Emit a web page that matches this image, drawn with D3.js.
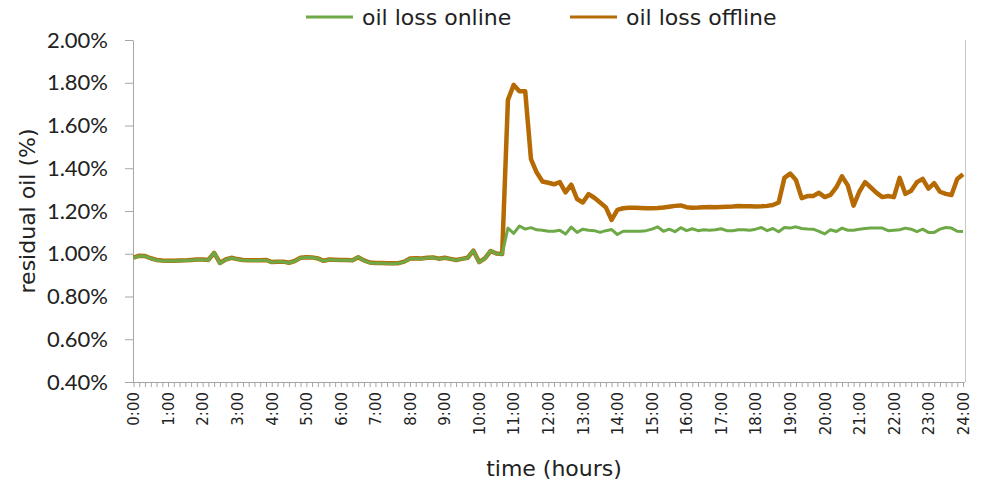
<!DOCTYPE html>
<html>
<head>
<meta charset="utf-8">
<script src="https://cdn.jsdelivr.net/npm/d3@7"></script>
<style>
  body { margin: 0; background: #fff; }
</style>
</head>
<body>
<script>
// 10-minute samples, 0:00 .. 24:00 (145 points), residual oil in %
var hourLabels = ["0:00", "1:00", "2:00", "3:00", "4:00", "5:00", "6:00", "7:00", "8:00",
    "9:00", "10:00", "11:00", "12:00", "13:00", "14:00", "15:00", "16:00", "17:00",
    "18:00", "19:00", "20:00", "21:00", "22:00", "23:00", "24:00"];

var yTicks = [0.4, 0.6, 0.8, 1.0, 1.2, 1.4, 1.6, 1.8, 2.0];

var seriesNames = ["oil loss online", "oil loss offline"];

var online = [
    0.981, 0.990, 0.988, 0.978, 0.970, 0.967,
    0.966, 0.966, 0.967, 0.968, 0.970, 0.972,
    0.972, 0.970, 1.005, 0.955, 0.972, 0.980,
    0.974, 0.970, 0.969, 0.969, 0.969, 0.970,
    0.960, 0.962, 0.962, 0.957, 0.965, 0.980,
    0.983, 0.982, 0.977, 0.966, 0.972, 0.971,
    0.970, 0.970, 0.968, 0.985, 0.968, 0.958,
    0.955, 0.956, 0.954, 0.953, 0.955, 0.962,
    0.977, 0.978, 0.977, 0.980, 0.982, 0.976,
    0.980, 0.975, 0.970, 0.975, 0.980, 1.016,
    0.960, 0.977, 1.014, 1.000, 0.998, 1.120,
    1.095, 1.130, 1.115, 1.122, 1.112, 1.110,
    1.105, 1.105, 1.110, 1.092, 1.125, 1.100,
    1.115, 1.110, 1.108, 1.100, 1.108, 1.113,
    1.090, 1.105, 1.105, 1.105, 1.105, 1.108,
    1.115, 1.126, 1.105, 1.115, 1.103, 1.122,
    1.108, 1.117, 1.108, 1.112, 1.110, 1.112,
    1.117, 1.108, 1.108, 1.112, 1.112, 1.110,
    1.115, 1.123, 1.108, 1.118, 1.103, 1.123,
    1.120, 1.126, 1.118, 1.116, 1.115, 1.105,
    1.093, 1.112, 1.104, 1.120, 1.110, 1.110,
    1.115, 1.118, 1.120, 1.120, 1.120, 1.108,
    1.110, 1.112, 1.120, 1.115, 1.104, 1.115,
    1.100, 1.100, 1.115, 1.123, 1.120, 1.105,
    1.104
];

var offline = [
    0.982, 0.991, 0.989, 0.979, 0.971, 0.968,
    0.967, 0.967, 0.968, 0.969, 0.971, 0.973,
    0.973, 0.971, 1.004, 0.957, 0.973, 0.981,
    0.975, 0.971, 0.970, 0.970, 0.970, 0.971,
    0.961, 0.963, 0.963, 0.958, 0.966, 0.981,
    0.984, 0.983, 0.978, 0.967, 0.973, 0.972,
    0.971, 0.971, 0.969, 0.984, 0.969, 0.959,
    0.957, 0.957, 0.956, 0.955, 0.956, 0.963,
    0.978, 0.979, 0.978, 0.981, 0.983, 0.977,
    0.981, 0.976, 0.971, 0.976, 0.981, 1.015,
    0.961, 0.978, 1.013, 1.001, 0.999, 1.720,
    1.790, 1.760, 1.760, 1.443, 1.380, 1.338,
    1.332, 1.325, 1.335, 1.287, 1.323, 1.256,
    1.240, 1.279, 1.262, 1.240, 1.217, 1.158,
    1.205, 1.213, 1.215, 1.215, 1.214, 1.213,
    1.213, 1.214, 1.216, 1.220, 1.224, 1.226,
    1.218, 1.215, 1.216, 1.218, 1.219, 1.218,
    1.219, 1.220, 1.221, 1.223, 1.222, 1.222,
    1.221, 1.222, 1.224, 1.228, 1.240, 1.355,
    1.375, 1.345, 1.260, 1.270, 1.270, 1.285,
    1.265, 1.275, 1.310, 1.362, 1.320, 1.225,
    1.290, 1.335, 1.310, 1.285, 1.265, 1.270,
    1.265, 1.355, 1.280, 1.295, 1.335, 1.350,
    1.305, 1.330, 1.290, 1.280, 1.275, 1.350,
    1.372
];

var W = 989, H = 483;
var plot = { left: 133, right: 965, top: 40, bottom: 382 };
var axisColor = "#a6a6a6", textColor = "#222";
var green = "#6ea947", orange = "#b56a04";

var svg = d3.select("body").append("svg")
    .attr("width", W)
    .attr("height", H);

var x = d3.scaleLinear()
    .domain([0, online.length - 1])
    .range([plot.left + 0.5, plot.right - 2]);

var y = d3.scaleLinear()
    .domain([0.4, 2.0])
    .range([plot.bottom, plot.top]);

// y axis
var yAxis = svg.append("g")
    .attr("transform", "translate(" + plot.left + ",0)")
    .call(d3.axisLeft(y)
        .tickValues(yTicks)
        .tickFormat(function (d) { return d3.format(".2f")(d) + "%"; })
        .tickSize(8)
        .tickPadding(17)
        .tickSizeOuter(0));
yAxis.selectAll("path, line").attr("stroke", axisColor);
yAxis.selectAll("text")
    .attr("fill", textColor)
    .style("font-family", "Lato")
    .style("font-size", "22px");

// x axis, one tick per sample, label every hour
var xAxis = svg.append("g")
    .attr("transform", "translate(0," + plot.bottom + ")")
    .call(d3.axisBottom(x)
        .tickValues(d3.range(online.length))
        .tickFormat(function (i) { return i % 6 === 0 ? hourLabels[i / 6] : ""; })
        .tickSize(5)
        .tickSizeOuter(0));
xAxis.select(".domain").attr("d", "M" + plot.left + ",0.5H" + plot.right);
xAxis.selectAll("line").attr("stroke", axisColor);
xAxis.select(".domain").attr("stroke", axisColor);
xAxis.selectAll("text")
    .attr("fill", textColor)
    .style("font-family", "DejaVu Sans")
    .style("font-size", "15px")
    .attr("transform", "rotate(-90)")
    .attr("text-anchor", "end")
    .attr("x", -10)
    .attr("y", 0)
    .attr("dy", "0.35em");

// right border of plot area
svg.append("line")
    .attr("x1", plot.right + 0.5).attr("x2", plot.right + 0.5)
    .attr("y1", plot.top).attr("y2", plot.bottom)
    .attr("stroke", "#c8c8c8");

var line = d3.line()
    .x(function (d, i) { return x(i); })
    .y(function (d) { return y(d); });

svg.append("path")
    .datum(offline)
    .attr("d", line)
    .attr("fill", "none")
    .attr("stroke", orange)
    .attr("stroke-width", 4.5)
    .attr("stroke-linejoin", "round");

svg.append("path")
    .datum(online)
    .attr("d", line)
    .attr("fill", "none")
    .attr("stroke", green)
    .attr("stroke-width", 3)
    .attr("stroke-linejoin", "round");

// legend
var legend = svg.append("g");
var legendX = [306, 570];
var legendColors = [green, orange];
seriesNames.forEach(function (name, k) {
    legend.append("line")
        .attr("x1", legendX[k]).attr("x2", legendX[k] + 47)
        .attr("y1", 17).attr("y2", 17)
        .attr("stroke", legendColors[k])
        .attr("stroke-width", 3);
    legend.append("text")
        .attr("x", legendX[k] + 56)
        .attr("y", 17)
        .attr("dy", "0.35em")
        .attr("fill", textColor)
        .style("font-family", "DejaVu Sans")
        .style("font-size", "22px")
        .text(name);
});

// axis titles
svg.append("text")
    .attr("transform", "translate(27," + ((plot.top + plot.bottom) / 2) + ") rotate(-90)")
    .attr("text-anchor", "middle")
    .attr("dy", "0.35em")
    .attr("fill", textColor)
    .style("font-family", "DejaVu Sans")
    .style("font-size", "22px")
    .text("residual oil (%)");

svg.append("text")
    .attr("x", 554)
    .attr("y", 468)
    .attr("text-anchor", "middle")
    .attr("dy", "0.35em")
    .attr("fill", textColor)
    .style("font-family", "DejaVu Sans")
    .style("font-size", "22px")
    .text("time (hours)");
</script>
</body>
</html>
